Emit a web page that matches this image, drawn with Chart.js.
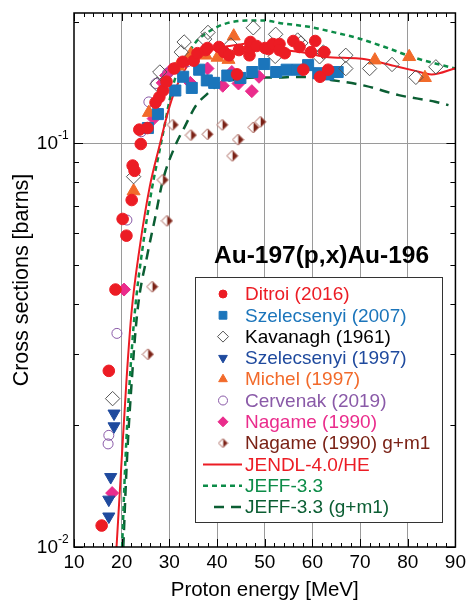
<!DOCTYPE html>
<html>
<head>
<meta charset="utf-8">
<script src="https://cdn.jsdelivr.net/npm/chart.js@4.4.1/dist/chart.umd.min.js"></script>
<style>
  html, body { margin: 0; padding: 0; background: #fff; }
  #wrap { width: 470px; height: 600px; }
</style>
</head>
<body>
<div id="wrap"><canvas id="xsChart" width="470" height="600"></canvas></div>
<script>
// xs.js - Au-197(p,x)Au-196 excitation function

// ---- experimental data (MeV, barns) ----
const ditroiEnergy = [15.8, 17.3, 18.7, 20.2, 21.0, 22.1, 22.3, 22.7, 23.7, 24.0, 25.4, 27.1, 27.9, 28.7, 29.4, 31.0, 32.8, 35.1, 35.9, 37.6, 38.0, 40.4, 41.5, 42.5, 44.2, 44.6, 46.8, 46.9, 47.0, 48.3, 50.1, 50.8, 51.7, 53.1, 53.1, 54.2, 56.0, 57.3, 58.1, 59.7, 60.6, 61.6, 62.5, 63.3];
const ditroiXs     = [0.0113, 0.0273, 0.0434, 0.0649, 0.0590, 0.0723, 0.0880, 0.0854, 0.108, 0.0995, 0.109, 0.126, 0.130, 0.135, 0.142, 0.153, 0.159, 0.160, 0.167, 0.170, 0.172, 0.173, 0.168, 0.165, 0.148, 0.170, 0.165, 0.172, 0.178, 0.174, 0.172, 0.171, 0.176, 0.176, 0.170, 0.167, 0.179, 0.173, 0.152, 0.168, 0.179, 0.146, 0.168, 0.152];

const szel07Energy = [25.5, 27.6, 31.25, 32.9, 34.7, 36.25, 37.85, 39.4, 42.15, 44.9, 47.4, 49.9, 52.4, 54.6, 56.9, 59.1, 61.25, 63.3, 65.3];
const szel07Xs     = [0.109, 0.118, 0.135, 0.146, 0.137, 0.152, 0.143, 0.141, 0.147, 0.145, 0.150, 0.157, 0.150, 0.152, 0.152, 0.156, 0.149, 0.148, 0.150];

const kavanaghEnergy = [18.1, 22.5, 27.4, 28.0, 32.5, 33.1, 37.4, 38.1, 42.9, 47.6, 52.3, 52.2, 56.9, 57.6, 61.5, 62.3, 67.0, 67.0, 72.0, 76.7, 81.7, 85.9];
const kavanaghXs     = [0.0233, 0.0826, 0.140, 0.150, 0.168, 0.178, 0.181, 0.188, 0.175, 0.193, 0.186, 0.164, 0.180, 0.177, 0.1636, 0.168, 0.165, 0.153, 0.153, 0.1566, 0.1455, 0.1545];

const szel97Energy = [18.4, 18.4, 17.7, 17.3, 17.3];
const szel97Xs     = [0.0214, 0.0199, 0.0149, 0.0131, 0.0119];

const michelEnergy = [22.5, 25.7, 31.8, 34.5, 37.6, 40.1, 42.4, 43.5, 73.1, 80.3, 83.6];
const michelXs     = [0.0761, 0.119, 0.155, 0.166, 0.165, 0.163, 0.161, 0.184, 0.1605, 0.1636, 0.1452];

const cervenakEnergy = [17.15, 17.3, 19.0, 21.1, 22.4, 24.1, 25.7, 27.2, 29.6, 31.5, 33.8, 35.2];
const cervenakXs     = [0.0180, 0.0189, 0.0338, 0.0645, 0.0876, 0.1067, 0.1265, 0.1405, 0.149, 0.154, 0.159, 0.161];

const nagameEnergy = [18.0, 20.5, 26.7, 28.6, 29.3, 30.4, 34.4, 38.0, 41.2, 43.1, 44.5, 47.3, 48.8];
const nagameXs     = [0.0136, 0.0434, 0.115, 0.141, 0.147, 0.152, 0.141, 0.153, 0.1387, 0.150, 0.1405, 0.1345, 0.146];

const nagameGmEnergy = [25.5, 26.4, 28.6, 29.5, 30.7, 34.5, 38.0, 41.1, 43.2, 44.4, 47.6, 49.1];
const nagameGmXs     = [0.030, 0.0441, 0.0811, 0.0642, 0.111, 0.1047, 0.1052, 0.111, 0.093, 0.102, 0.1094, 0.1129];

// ---- evaluated data ----
const jendlEnergy = [18.92, 19.96, 21.01, 22.05, 23.79, 25.87, 27.96, 29.36, 30.74, 32.83, 34.92, 37.72, 40.50, 43.98, 47.81, 50.94, 53.72, 59.29, 62.78, 69.74, 72.87, 77.41, 81.58, 84.99, 90.0];
const jendlXs     = [0.0100, 0.01614, 0.02591, 0.03795, 0.05529, 0.07782, 0.09886, 0.1153, 0.1307, 0.1490, 0.1614, 0.1683, 0.1722, 0.1749, 0.1769, 0.1734, 0.1706, 0.1667, 0.1635, 0.1620, 0.1598, 0.1551, 0.1510, 0.1479, 0.1533];

const jeffEnergy = [20.09, 20.76, 21.70, 22.74, 24.41, 26.29, 27.96, 29.22, 30.05, 31.10, 32.83, 34.92, 36.32, 38.41, 41.19, 46.07, 49.90, 53.72, 59.29, 64.16, 69.74, 76.01, 80.87, 85.76, 90.0];
const jeffXs     = [0.0100, 0.01614, 0.02591, 0.03795, 0.05529, 0.07650, 0.09609, 0.1140, 0.1278, 0.1432, 0.1578, 0.1739, 0.1819, 0.1893, 0.1966, 0.2011, 0.2011, 0.1979, 0.1941, 0.1886, 0.1816, 0.1716, 0.1635, 0.1575, 0.1531];

const jeffGmEnergy = [20.34, 21.07, 21.91, 23.26, 25.46, 26.92, 28.65, 31.10, 33.19, 35.63, 37.89, 40.50, 44.67, 46.76, 52.34, 57.21, 65.56, 71.14, 78.09, 85.76, 88.54];
const jeffGmXs     = [0.0100, 0.01614, 0.02378, 0.03795, 0.05343, 0.06449, 0.08099, 0.09775, 0.1096, 0.1242, 0.1322, 0.1400, 0.1444, 0.1452, 0.1454, 0.1459, 0.1424, 0.1386, 0.1315, 0.1266, 0.1242];

// ---- axis ticks ----
const xTickValues   = [10, 20, 30, 40, 50, 60, 70, 80, 90];
const xMinorTicks   = [10, 12, 14, 16, 18, 20, 22, 24, 26, 28, 30, 32, 34, 36, 38, 40, 42, 44, 46, 48, 50, 52, 54, 56, 58, 60, 62, 64, 66, 68, 70, 72, 74, 76, 78, 80, 82, 84, 86, 88, 90];
const yMinorTicks   = [0.01, 0.02, 0.03, 0.04, 0.05, 0.06, 0.07, 0.08, 0.09, 0.1, 0.2];
const yLabelValues  = [0.01, 0.1];
const yLabelBase    = ['10', '10'];
const yLabelExp     = ['-2', '-1'];

const FONT = "'Liberation Sans', Arial, Helvetica, sans-serif";
Chart.defaults.font.family = FONT;

const RED    = '#ec1c24';
const BLUE   = '#1b75bb';
const NAVY   = '#1f4a9e';
const ORANGE = '#f26a2a';
const PURPLE = '#8a5aa8';
const PINK   = '#ea2c8c';
const BROWN  = '#7a2216';
const GREEN  = '#0c8c48';
const DKGREEN = '#0b5e33';

function pts(energy, xs) {
    return energy.map((e, i) => ({ x: e, y: xs[i] }));
}

// half filled diamond marker (white left, brown right)
function halfDiamond(r) {
    const c = document.createElement('canvas');
    const s = Math.ceil(2 * r + 2);
    c.width = s;
    c.height = s;
    const g = c.getContext('2d');
    const m = s / 2;
    g.beginPath();
    g.moveTo(m, m - r); g.lineTo(m + r, m); g.lineTo(m, m + r); g.closePath();
    g.fillStyle = BROWN;
    g.fill();
    g.beginPath();
    g.moveTo(m, m - r); g.lineTo(m - r, m); g.lineTo(m, m + r); g.closePath();
    g.fillStyle = '#fff';
    g.fill();
    g.beginPath();
    g.moveTo(m, m - r); g.lineTo(m + r, m); g.lineTo(m, m + r); g.lineTo(m - r, m); g.closePath();
    g.strokeStyle = '#a45a50';
    g.lineWidth = 1;
    g.stroke();
    return c;
}

const halfDiamondPlot   = halfDiamond(5.5);
const halfDiamondLegend = halfDiamond(4.5);

function markerSet(label, data, style, radius, fill, stroke, textColor, extra) {
    return Object.assign({
        label,
        data,
        showLine: false,
        pointStyle: style,
        pointRadius: radius,
        pointHoverRadius: radius,
        pointBackgroundColor: fill,
        pointBorderColor: stroke,
        pointBorderWidth: 1,
        backgroundColor: fill,
        borderColor: stroke,
        textColor,
    }, extra || {});
}

function lineSet(label, data, color, width, dash, textColor, order) {
    return {
        label,
        data,
        showLine: true,
        pointRadius: 0,
        pointHoverRadius: 0,
        borderColor: color,
        backgroundColor: color,
        borderWidth: width,
        borderDash: dash,
        cubicInterpolationMode: 'monotone',
        textColor,
        order,
    };
}

const datasets = [
    markerSet('Ditroi (2016)', pts(ditroiEnergy, ditroiXs), 'circle', 5.8, RED, RED, RED, { order: 1, legendR: 4 }),
    markerSet('Szelecsenyi (2007)', pts(szel07Energy, szel07Xs), 'rect', 7.8, BLUE, BLUE, BLUE, { order: 3, legendR: 5.5 }),
    markerSet('Kavanagh (1961)', pts(kavanaghEnergy, kavanaghXs), 'rectRot', 7.2, 'rgba(0,0,0,0)', '#555', '#000', { order: 2, legendR: 5.5 }),
    markerSet('Szelecsenyi (1997)', pts(szel97Energy, szel97Xs), 'triangle', 7, NAVY, NAVY, NAVY, { order: 4, rotation: 180, pointRotation: 180, legendR: 5 }),
    markerSet('Michel (1997)', pts(michelEnergy, michelXs), 'triangle', 7.5, ORANGE, ORANGE, ORANGE, { order: 5, legendR: 5 }),
    markerSet('Cervenak (2019)', pts(cervenakEnergy, cervenakXs), 'circle', 5, 'rgba(0,0,0,0)', PURPLE, PURPLE, { order: 6, legendR: 4.5 }),
    markerSet('Nagame (1990)', pts(nagameEnergy, nagameXs), 'rectRot', 6.5, PINK, PINK, PINK, { order: 7, legendR: 5 }),
    markerSet('Nagame (1990) g+m1', pts(nagameGmEnergy, nagameGmXs), halfDiamondPlot, 5.5, BROWN, BROWN, BROWN, { order: 8, legendImg: halfDiamondLegend }),
    lineSet('JENDL-4.0/HE', pts(jendlEnergy, jendlXs), RED, 2, [], RED, 20),
    lineSet('JEFF-3.3', pts(jeffEnergy, jeffXs), GREEN, 2.5, [5, 4], GREEN, 21),
    lineSet('JEFF-3.3 (g+m1)', pts(jeffGmEnergy, jeffGmXs), DKGREEN, 2.5, [10, 7], DKGREEN, 22),
];

// legend marker drawing
function drawLegendMarker(ctx, ds, x, y) {
    const r = ds.legendR || 5;
    ctx.save();
    ctx.fillStyle = ds.pointBackgroundColor;
    ctx.strokeStyle = ds.pointBorderColor;
    ctx.lineWidth = 1;
    ctx.beginPath();
    if (ds.legendImg) {
        const img = ds.legendImg;
        ctx.drawImage(img, x - img.width / 2, y - img.height / 2);
        ctx.restore();
        return;
    }
    if (ds.pointStyle === 'circle') {
        ctx.arc(x, y, r, 0, Math.PI * 2);
    } else if (ds.pointStyle === 'rect') {
        const h = r * Math.SQRT1_2;
        ctx.rect(x - h, y - h, 2 * h, 2 * h);
    } else if (ds.pointStyle === 'rectRot') {
        ctx.moveTo(x, y - r); ctx.lineTo(x + r, y); ctx.lineTo(x, y + r); ctx.lineTo(x - r, y); ctx.closePath();
    } else if (ds.pointStyle === 'triangle') {
        const dir = ds.pointRotation === 180 ? -1 : 1;
        const a = r * Math.sqrt(3) / 2;
        ctx.moveTo(x, y - dir * r);
        ctx.lineTo(x + a, y + dir * r / 2);
        ctx.lineTo(x - a, y + dir * r / 2);
        ctx.closePath();
    }
    ctx.fill();
    ctx.stroke();
    ctx.restore();
}

const framePlugin = {
    id: 'frame',
    afterDatasetsDraw(chart) {
        const { ctx, chartArea: a, scales: { x, y } } = chart;
        ctx.save();
        ctx.strokeStyle = '#000';
        ctx.lineWidth = 1;
        ctx.beginPath();
        xMinorTicks.forEach(v => {
            const px = Math.round(x.getPixelForValue(v)) + 0.5;
            const len = v % 10 === 0 ? 8 : 4;
            ctx.moveTo(px, a.bottom); ctx.lineTo(px, a.bottom - len);
            ctx.moveTo(px, a.top); ctx.lineTo(px, a.top + len);
        });
        yMinorTicks.forEach(v => {
            const py = Math.round(y.getPixelForValue(v)) + 0.5;
            const len = yLabelValues.includes(v) ? 9 : 5;
            ctx.moveTo(a.left, py); ctx.lineTo(a.left + len, py);
            ctx.moveTo(a.right, py); ctx.lineTo(a.right - len, py);
        });
        ctx.stroke();
        ctx.lineWidth = 1.5;
        ctx.strokeRect(a.left, a.top, a.right - a.left, a.bottom - a.top);

        // y tick labels as 10^n
        ctx.fillStyle = '#000';
        ctx.textBaseline = 'middle';
        yLabelValues.forEach((v, i) => {
            const py = y.getPixelForValue(v);
            ctx.font = '19px ' + FONT;
            ctx.textAlign = 'right';
            ctx.fillText(yLabelBase[i], a.left - 16, py + 1);
            ctx.font = '12px ' + FONT;
            ctx.textAlign = 'left';
            ctx.fillText(yLabelExp[i], a.left - 16, py - 7);
        });
        ctx.restore();
    },
    afterDraw(chart) {
        const { ctx } = chart;
        ctx.save();
        // reaction label
        ctx.fillStyle = '#000';
        ctx.font = 'bold 24.5px ' + FONT;
        ctx.textAlign = 'left';
        ctx.textBaseline = 'middle';
        ctx.fillText('Au-197(p,x)Au-196', 214, 256);

        // legend box
        const box = { left: 195, top: 277, right: 442, bottom: 522 };
        ctx.fillStyle = '#fff';
        ctx.fillRect(box.left, box.top, box.right - box.left, box.bottom - box.top);
        ctx.strokeStyle = '#333';
        ctx.lineWidth = 1;
        ctx.strokeRect(box.left + 0.5, box.top + 0.5, box.right - box.left, box.bottom - box.top);

        const rowStep = 21.3;
        chart.data.datasets.forEach((ds, i) => {
            const yy = 294 + i * rowStep;
            if (ds.showLine) {
                ctx.save();
                ctx.strokeStyle = ds.borderColor;
                ctx.lineWidth = ds.borderWidth;
                ctx.setLineDash(ds.borderDash);
                ctx.beginPath();
                const startX = ds.borderDash.length && ds.borderDash[0] > 6 ? 214 : 203;
                ctx.moveTo(startX, yy);
                ctx.lineTo(242, yy);
                ctx.stroke();
                ctx.restore();
            } else {
                drawLegendMarker(ctx, ds, 223, yy);
            }
            ctx.fillStyle = ds.textColor;
            ctx.font = '19px ' + FONT;
            ctx.textAlign = 'left';
            ctx.textBaseline = 'middle';
            ctx.fillText(ds.label, 245, yy + 1);
        });
        ctx.restore();
    }
};

new Chart(document.getElementById('xsChart'), {
    type: 'scatter',
    data: { datasets },
    options: {
        responsive: false,
        animation: false,
        events: [],
        layout: { padding: { top: 13, right: 13, left: 0, bottom: 0 } },
        plugins: {
            legend: { display: false },
            tooltip: { enabled: false },
        },
        scales: {
            x: {
                type: 'linear',
                min: 10,
                max: 90,
                afterFit: s => { s.height = 53; },
                afterBuildTicks: s => { s.ticks = xTickValues.map(v => ({ value: v })); },
                border: { display: false },
                grid: {
                    drawTicks: false,
                    lineWidth: 1,
                    color: c => (c.tick && c.tick.value > 10 && c.tick.value < 90) ? '#9a9a9a' : 'rgba(0,0,0,0)',
                },
                ticks: {
                    color: '#000',
                    font: { size: 19 },
                    padding: 4,
                    maxRotation: 0,
                },
                title: {
                    display: true,
                    text: 'Proton energy [MeV]',
                    color: '#000',
                    font: { size: 20.5, lineHeight: 1 },
                    padding: { top: 0, bottom: -1 },
                },
            },
            y: {
                type: 'logarithmic',
                min: 0.01,
                max: 0.21,
                afterFit: s => { s.width = 74; },
                border: { display: false },
                grid: {
                    drawTicks: false,
                    lineWidth: 1,
                    color: c => (c.tick && Math.abs(c.tick.value - 0.1) < 1e-9) ? '#9a9a9a' : 'rgba(0,0,0,0)',
                },
                ticks: { display: false },
                title: {
                    display: true,
                    text: 'Cross sections [barns]',
                    color: '#000',
                    font: { size: 21.5, lineHeight: 1 },
                    padding: { top: 11, bottom: 0 },
                },
            },
        },
    },
    plugins: [framePlugin],
});
</script>
</body>
</html>
